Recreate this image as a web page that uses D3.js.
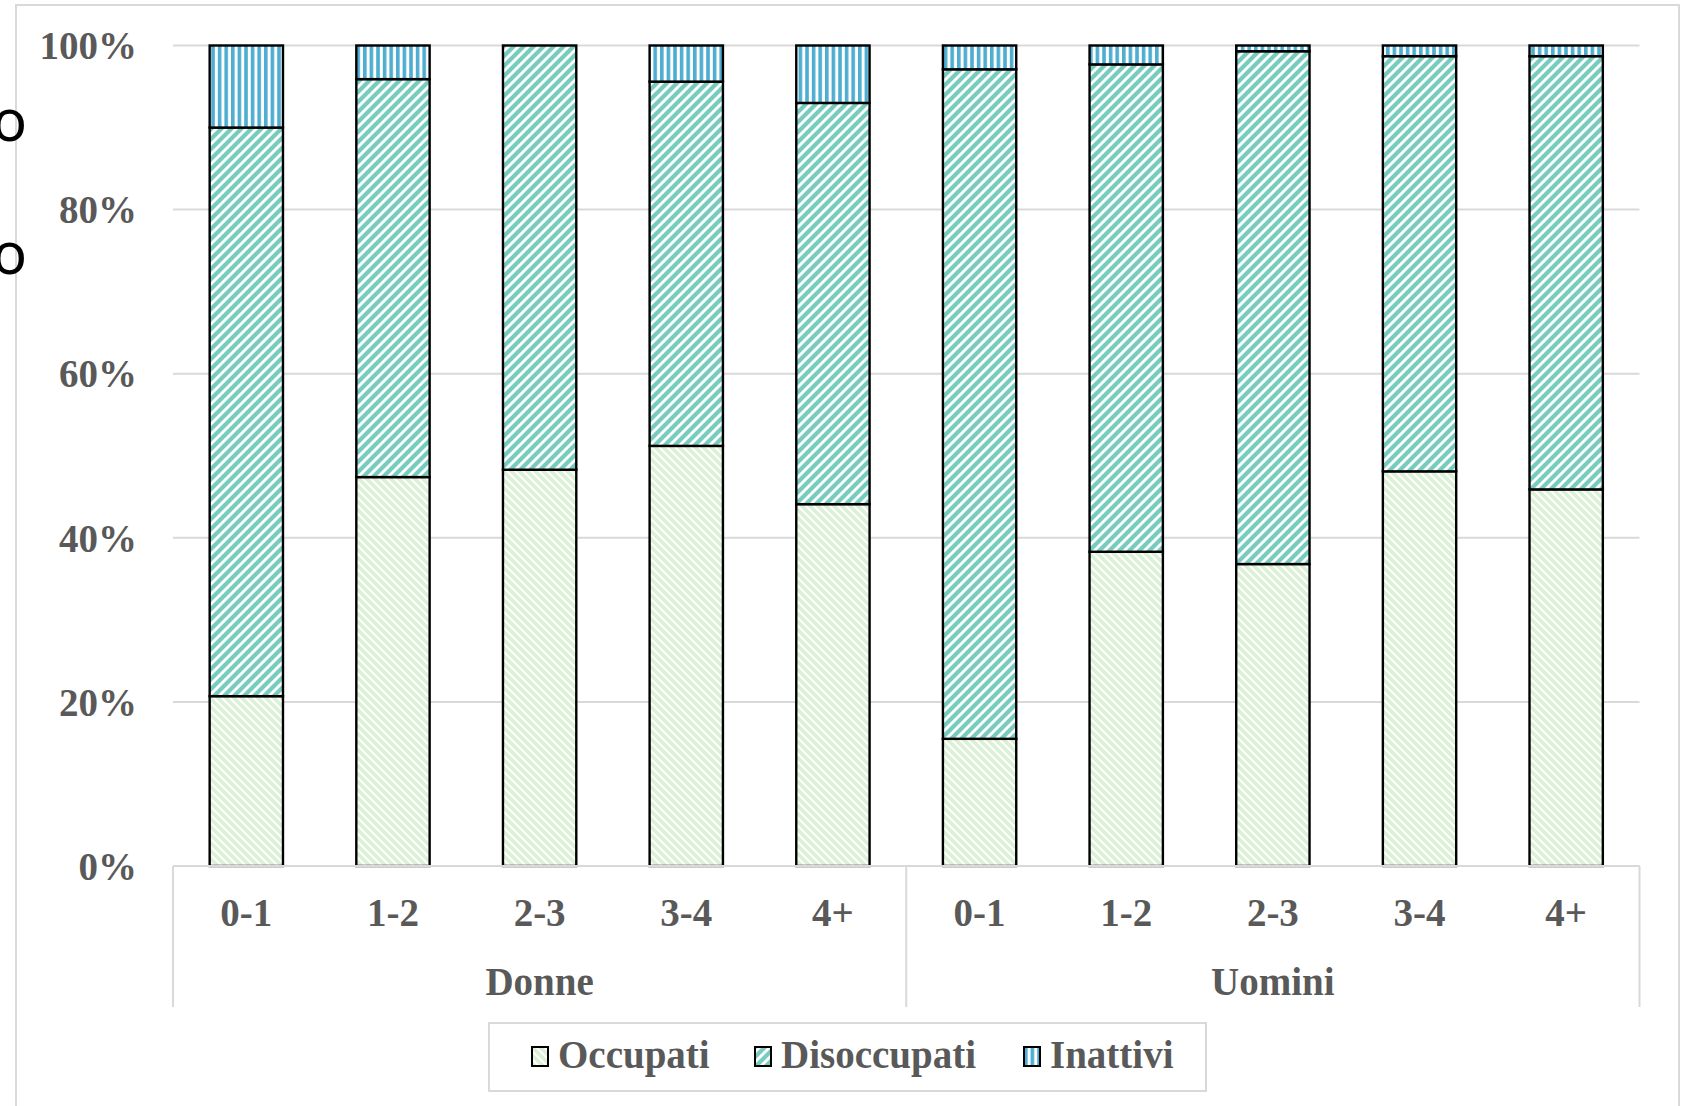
<!DOCTYPE html>
<html>
<head>
<meta charset="utf-8">
<script src="https://cdn.jsdelivr.net/npm/d3@7"></script>
<style>
  html, body { margin: 0; padding: 0; background: #fff; }
  svg { display: block; }
</style>
</head>
<body>
<svg id="chart" width="1685" height="1106"></svg>
<script>
// ---- data ----
const groups = ["Donne", "Uomini"];
const classes = ["0-1", "1-2", "2-3", "3-4", "4+"];
const seriesNames = ["Occupati", "Disoccupati", "Inattivi"];
const occupati    = [20.7, 47.4, 48.3, 51.2, 44.1, 15.5, 38.3, 36.8, 48.1, 45.9];
const disoccupati = [69.3, 48.5, 51.7, 44.4, 48.9, 81.6, 59.4, 62.5, 50.6, 52.8];
const inattivi    = [10.0,  4.1,  0.0,  4.4,  7.0,  2.9,  2.3,  0.7,  1.3,  1.3];
const yTicks = [0, 20, 40, 60, 80, 100];

// ---- layout ----
const svg = d3.select("#chart");
const W = 1685, H = 1106;
const plot = { left: 173, right: 1639.5, top: 45.5, bottom: 866 };
const grey = "#d9d9d9", textGrey = "#595959";
const fontSerif = "'Liberation Serif','Times New Roman',serif";
const fs = 39;

svg.append("rect").attr("width", W).attr("height", H).attr("fill", "#fff");
// chart area border
svg.append("rect").attr("x", 16).attr("y", 5).attr("width", 1663).attr("height", 1120)
  .attr("fill", "none").attr("stroke", grey).attr("stroke-width", 2);

// cut-off text remnants on left (as in the reference)
["o", "o"].forEach((t, i) => {
  svg.append("text").attr("x", 27).attr("y", 141 + i * 133)
    .attr("text-anchor", "end").attr("font-family", "'Noto Sans','DejaVu Sans',sans-serif")
    .attr("font-size", 58).attr("fill", "#000").text(t);
});

// patterns
const defs = svg.append("defs");
function patt(id, w, h, bg, draw) {
  const p = defs.append("pattern").attr("id", id).attr("patternUnits", "userSpaceOnUse")
    .attr("width", w).attr("height", h);
  p.append("rect").attr("width", w).attr("height", h).attr("fill", bg);
  draw(p);
}
patt("pOcc", 8, 8, "#fff", p => {
  p.append("path").attr("d", "M-2,-2L10,10M-2,6L2,10M6,-2L10,2")
    .attr("stroke", "#dbf1d5").attr("stroke-width", 3.6).attr("fill", "none");
});
patt("pDis", 10, 10, "#fff", p => {
  p.append("path").attr("d", "M-2,12L12,-2M-2,2L2,-2M8,12L12,8")
    .attr("stroke", "#77cbbf").attr("stroke-width", 4.2).attr("fill", "none");
});
patt("pIna", 6.6, 8, "#fff", p => {
  p.append("rect").attr("x", 0).attr("y", 0).attr("width", 3.6).attr("height", 8).attr("fill", "#4eaed2");
});
const fills = { Occupati: "url(#pOcc)", Disoccupati: "url(#pDis)", Inattivi: "url(#pIna)" };

// data table
const labels = [];
groups.forEach(g => classes.forEach(c => labels.push({ group: g, cls: c })));
const table = labels.map((d, i) => ({
  key: i, group: d.group, cls: d.cls,
  Occupati: occupati[i], Disoccupati: disoccupati[i], Inattivi: inattivi[i]
}));

const x = d3.scaleBand().domain(table.map(d => d.key)).range([plot.left, plot.right]).paddingInner(0.5).paddingOuter(0.25);
const y = d3.scaleLinear().domain([0, 100]).range([plot.bottom, plot.top]);

// gridlines
svg.append("g").selectAll("line").data(yTicks).join("line")
  .attr("x1", plot.left).attr("x2", plot.right)
  .attr("y1", d => y(d)).attr("y2", d => y(d))
  .attr("stroke", grey).attr("stroke-width", 2);

// y axis labels
const yAxis = d3.axisLeft(y).tickValues(yTicks).tickFormat(d => d + "%").tickSize(0).tickPadding(0);
const yg = svg.append("g").attr("transform", "translate(137,0)").call(yAxis);
yg.select(".domain").remove();
yg.selectAll("text").attr("font-family", fontSerif).attr("font-weight", "bold")
  .attr("font-size", fs).attr("fill", textGrey).attr("dy", "0.34em");

// stacked bars
const stack = d3.stack().keys(seriesNames);
const layers = stack(table);
svg.append("g").selectAll("g").data(layers).join("g")
  .attr("fill", d => fills[d.key])
  .selectAll("rect").data(d => d.filter(s => s[1] - s[0] > 0)).join("rect")
  .attr("x", d => x(d.data.key))
  .attr("width", x.bandwidth())
  .attr("y", d => y(d[1]))
  .attr("height", d => y(d[0]) - y(d[1]))
  .attr("stroke", "#000").attr("stroke-width", 2.4);

// x axis line and separators
svg.append("line").attr("x1", plot.left).attr("x2", plot.right)
  .attr("y1", plot.bottom).attr("y2", plot.bottom).attr("stroke", grey).attr("stroke-width", 2);
const mid = (x(4) + x.bandwidth() + x(5)) / 2;
[plot.left, mid, plot.right].forEach(sx => {
  svg.append("line").attr("x1", sx).attr("x2", sx).attr("y1", plot.bottom).attr("y2", 1007)
    .attr("stroke", grey).attr("stroke-width", 2);
});

// category labels
const xAxis = d3.axisBottom(x).tickFormat(k => table[k].cls).tickSize(0).tickPadding(0);
const xg = svg.append("g").attr("transform", `translate(0,${plot.bottom})`).call(xAxis);
xg.select(".domain").remove();
xg.selectAll("text").attr("font-family", fontSerif).attr("font-weight", "bold")
  .attr("font-size", fs).attr("fill", textGrey).attr("dy", null).attr("y", 60);

// group labels
const groupCenters = [(plot.left + mid) / 2, (mid + plot.right) / 2];
svg.append("g").selectAll("text").data(groups).join("text")
  .attr("x", (d, i) => groupCenters[i]).attr("y", 995)
  .attr("text-anchor", "middle").attr("font-family", fontSerif).attr("font-weight", "bold")
  .attr("font-size", fs).attr("fill", textGrey).text(d => d);

// legend
svg.append("rect").attr("x", 489).attr("y", 1023).attr("width", 717).attr("height", 68)
  .attr("fill", "#fff").attr("stroke", grey).attr("stroke-width", 2);
const legendX = [532, 755, 1024];
const lg = svg.append("g").selectAll("g").data(seriesNames).join("g")
  .attr("transform", (d, i) => `translate(${legendX[i]},1047)`);
lg.append("rect").attr("width", 16).attr("height", 19).attr("fill", d => fills[d])
  .attr("stroke", "#000").attr("stroke-width", 2);
lg.append("text").attr("x", 26).attr("y", 21).attr("font-family", fontSerif).attr("font-weight", "bold")
  .attr("font-size", fs).attr("fill", textGrey).text(d => d);
</script>
</body>
</html>
